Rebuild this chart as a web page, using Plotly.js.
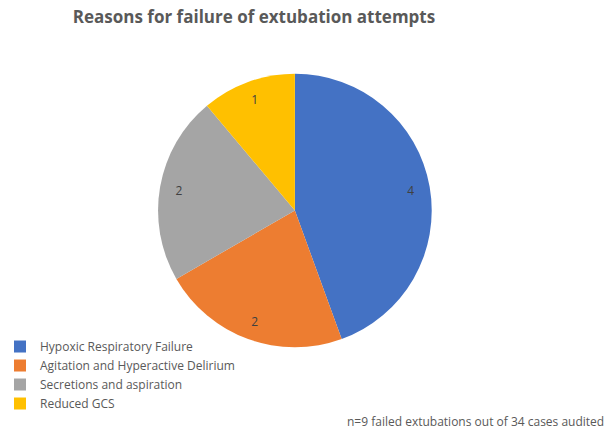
<!DOCTYPE html>
<html>
<head>
<meta charset="utf-8">
<script src="https://cdn.plot.ly/plotly-3.0.1.min.js"></script>
<style>html,body{margin:0;padding:0;background:#fff;}#chart{width:615px;height:434px;}</style>
</head>
<body>
<div id="chart"></div>
<script>
const categories = ["Hypoxic Respiratory Failure", "Agitation and Hyperactive Delirium", "Secretions and aspiration", "Reduced GCS"];
const counts = [4, 2, 2, 1];
const sliceColors = ["#4472C4", "#ED7D31", "#A5A5A5", "#FFC000"];
const titleText = "Reasons for failure of extubation attempts";
const noteText = "n=9 failed extubations out of 34 cases audited";

const pieDomain = { x: [0.257, 0.702], y: [0.198, 0.832] };

// Full pie: the slices and the legend
const pieTrace = {
  type: "pie",
  labels: categories,
  values: counts,
  sort: false,
  direction: "clockwise",
  rotation: 0,
  marker: { colors: sliceColors, line: { width: 0 } },
  textinfo: "none",
  domain: pieDomain,
  hoverinfo: "label+value"
};

// Transparent ring on top: places the value labels near the outer edge
const labelTrace = {
  type: "pie",
  labels: categories,
  values: counts,
  sort: false,
  direction: "clockwise",
  rotation: 0,
  hole: 0.72,
  marker: { colors: sliceColors.map(() => "rgba(0,0,0,0)"), line: { width: 0 } },
  textinfo: "value",
  textposition: "inside",
  insidetextorientation: "horizontal",
  textfont: { family: "Open Sans, sans-serif", size: 12, color: "#404040" },
  domain: pieDomain,
  showlegend: false,
  hoverinfo: "skip"
};

const layout = {
  width: 615,
  height: 434,
  margin: { l: 0, r: 0, t: 0, b: 0 },
  paper_bgcolor: "#ffffff",
  showlegend: true,
  title: {
    text: "<b>" + titleText + "</b>",
    x: 0.413, xanchor: "center",
    y: 0.96, yanchor: "middle",
    font: { family: "Open Sans, sans-serif", size: 17, color: "#595959" }
  },
  legend: {
    x: 0.0, xanchor: "left",
    y: 0.235, yanchor: "top",
    orientation: "v",
    itemwidth: 30,
    font: { family: "Open Sans, sans-serif", size: 12, color: "#595959" },
    bgcolor: "rgba(0,0,0,0)"
  },
  annotations: [{
    text: noteText,
    xref: "paper", yref: "paper",
    x: 0.985, xanchor: "right",
    y: 0.028, yanchor: "middle",
    showarrow: false,
    font: { family: "Open Sans, sans-serif", size: 12, color: "#595959" }
  }]
};

Plotly.newPlot("chart", [pieTrace, labelTrace], layout, { displayModeBar: false, staticPlot: true });
</script>
</body>
</html>
